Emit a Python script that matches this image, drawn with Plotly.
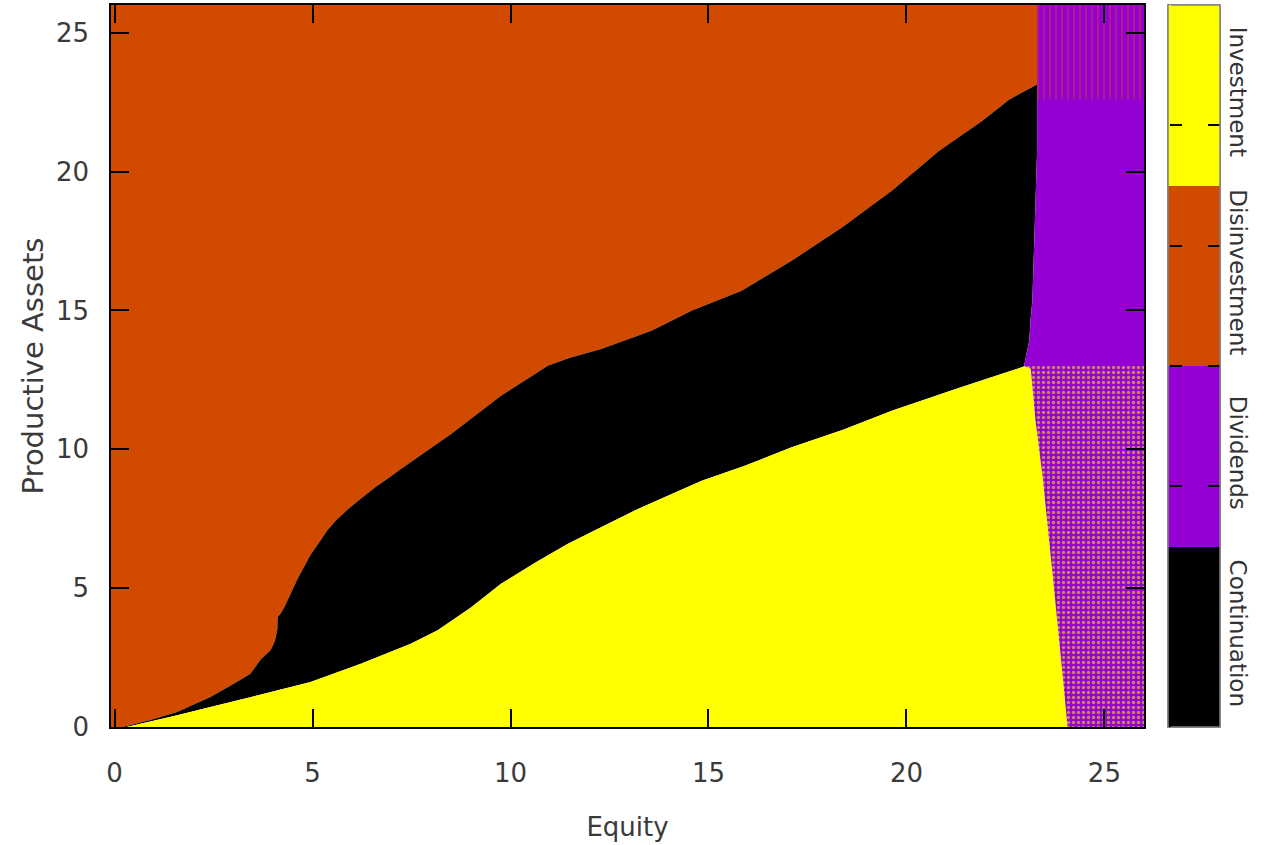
import plotly.graph_objects as go

# ---- data (Equity x, Productive Assets y) ----
upper_x = [0.2, 0.9, 1.58, 2.42, 3.0, 3.43, 3.7, 3.94, 4.05, 4.11, 4.12, 4.2, 4.3, 4.61, 4.95, 5.2,
           5.37, 5.6, 5.9, 6.2, 6.6, 7.0, 7.23, 8.5, 9.76, 10.5, 10.94, 11.5, 12.29, 13.56, 14.57,
           15.84, 17.1, 18.37, 19.63, 20.82, 21.91, 22.6, 23.3]
upper_y = [0.0, 0.25, 0.54, 1.08, 1.55, 1.92, 2.45, 2.76, 3.1, 3.5, 3.96, 4.1, 4.35, 5.3, 6.2, 6.72,
           7.08, 7.45, 7.85, 8.2, 8.65, 9.05, 9.29, 10.55, 11.93, 12.6, 13.01, 13.3, 13.61, 14.27, 14.99,
           15.71, 16.79, 17.99, 19.31, 20.74, 21.82, 22.6, 23.14]

lower_x = [0.3, 0.9, 1.58, 2.42, 3.5, 4.95, 6.22, 7.48, 8.16, 9.0, 9.76, 10.6, 11.45, 12.3, 13.14,
           14.0, 14.83, 15.9, 17.1, 18.4, 19.63, 21.3, 22.95]
lower_y = [0.0, 0.2, 0.42, 0.72, 1.1, 1.62, 2.28, 3.0, 3.48, 4.3, 5.16, 5.9, 6.6, 7.2, 7.8,
           8.35, 8.87, 9.4, 10.07, 10.7, 11.39, 12.2, 12.97]

# black / purple boundary (bottom to top)
div_x = [22.97, 23.1, 23.14, 23.18, 23.22, 23.3, 23.3]
div_y = [13.0, 13.9, 14.75, 15.35, 17.15, 20.74, 23.14]

# yellow / mixed boundary (top to bottom)
mix_x = [22.97, 23.14, 23.26, 23.44, 23.69, 23.94, 24.07]
mix_y = [13.0, 12.9, 11.03, 9.0, 5.52, 1.93, 0.0]

stripe_bottom = 22.6
x_lo, x_hi = -0.09, 26.0
y_lo, y_hi = 0.0, 26.0

categories = ["Continuation", "Dividends", "Disinvestment", "Investment"]
colors = ["#000000", "#9400D3", "#D24A00", "#FFFF00"]
cb_ticks = [4 * k / 6 for k in range(1, 6)]
BLACK, PURPLE, ORANGE, YELLOW = colors

fig = go.Figure()

# Disinvestment (orange) region: above the upper boundary
ox = [x_lo, x_lo] + upper_x + [upper_x[-1], x_lo]
oy = [y_hi, 0.0] + upper_y + [y_hi, y_hi]
fig.add_trace(go.Scatter(x=ox, y=oy, fill="toself", fillcolor=ORANGE, mode="none"))

# Continuation (black): between boundaries
bx = upper_x + div_x[::-1] + lower_x[::-1]
by = upper_y + div_y[::-1] + lower_y[::-1]
fig.add_trace(go.Scatter(x=bx, y=by, fill="toself", fillcolor=BLACK, mode="none"))

# Investment (yellow): below the lower boundary
yx = lower_x + mix_x + [lower_x[0]]
yy = lower_y + mix_y + [0.0]
fig.add_trace(go.Scatter(x=yx, y=yy, fill="toself", fillcolor=YELLOW, mode="none"))

# Dividends (purple)
px_ = div_x + [div_x[-1], x_hi + 0.1, x_hi + 0.1]
py_ = div_y + [y_hi, y_hi, div_y[0]]
fig.add_trace(go.Scatter(x=px_, y=py_, fill="toself", fillcolor=PURPLE, mode="none"))

# striped zone (purple with orange vertical lines)
sx = [div_x[-1], x_hi + 0.1, x_hi + 0.1, div_x[-1], div_x[-1]]
sy = [stripe_bottom, stripe_bottom, y_hi, y_hi, stripe_bottom]
fig.add_trace(go.Scatter(x=sx, y=sy, fill="toself", fillcolor=PURPLE, mode="none",
                         fillpattern=dict(shape="|", fgcolor=ORANGE, bgcolor=PURPLE,
                                          size=6, solidity=0.25)))

# mixed zone (purple / yellow)
mx = mix_x + [x_hi + 0.1, x_hi + 0.1, mix_x[0]]
my = mix_y + [0.0, mix_y[0], mix_y[0]]
fig.add_trace(go.Scatter(x=mx, y=my, fill="toself", fillcolor=PURPLE, mode="none",
                         fillpattern=dict(shape=".", fgcolor=YELLOW, bgcolor=PURPLE,
                                          size=5, solidity=0.38)))

# colour bar
cs = []
for i, c in enumerate(colors):
    cs.append([i / 4, c])
    cs.append([(i + 1) / 4, c])

CB_X = 1.0232
PX = 1.0 / 1033


def cb_trace(colorbar):
    return go.Scatter(
        x=[1, 1, 1, 1], y=[1, 1, 1, 1], mode="markers", hoverinfo="skip",
        marker=dict(color=[0.5, 1.5, 2.5, 3.5], cmin=0, cmax=4, colorscale=cs, opacity=0,
                    size=1, showscale=True, colorbar=colorbar))


common = dict(xanchor="left", xref="paper", y=0.5, yanchor="middle", len=1,
              lenmode="fraction", xpad=0, ypad=0)
# labelled bar
fig.add_trace(cb_trace(dict(x=CB_X, thickness=52, outlinecolor="#808080", outlinewidth=1.5,
                            tickvals=[0.5, 1.5, 2.5, 3.5], ticktext=categories,
                            tickangle=90, ticks="",
                            tickfont=dict(size=23, color="#333333", family="DejaVu Sans"),
                            **common)))
# inner tick marks, right side
fig.add_trace(cb_trace(dict(x=CB_X, thickness=52, outlinewidth=1.5, outlinecolor="#808080",
                            tickvals=cb_ticks, ticks="inside", ticklen=12, tickwidth=1.5,
                            tickcolor="black", showticklabels=False, **common)))
# inner tick marks, left side
fig.add_trace(cb_trace(dict(x=CB_X + 1 * PX, thickness=1, outlinewidth=0,
                            tickvals=cb_ticks, ticks="outside", ticklen=12, tickwidth=1.5,
                            tickcolor="black", showticklabels=False, **common)))

font = dict(family="DejaVu Sans", size=26, color="#3a3a3a")
fig.update_layout(
    width=1271, height=845, showlegend=False,
    margin=dict(l=111, r=127, t=3, b=118),
    paper_bgcolor="white", plot_bgcolor="white",
    font=font, hovermode=False,
    xaxis=dict(range=[x_lo, x_hi], tickvals=[0, 5, 10, 15, 20, 25], ticks="inside",
               ticklen=18, tickwidth=1.5, tickcolor="black", showline=True, linecolor="black",
               linewidth=1.5, mirror="ticks", showgrid=False, zeroline=False,
               ticklabelstandoff=22,
               title=dict(text="Equity", standoff=31, font=dict(size=26))),
    yaxis=dict(range=[y_lo, y_hi], tickvals=[0, 5, 10, 15, 20, 25], ticks="inside",
               ticklen=18, tickwidth=1.5, tickcolor="black", showline=True, linecolor="black",
               linewidth=1.5, mirror="ticks", showgrid=False, zeroline=False,
               ticklabelstandoff=15,
               title=dict(text="Productive Assets", standoff=4, font=dict(size=29))),
)

fig.write_html("out.html", config={"displayModeBar": False},
               post_script="document.body.style.margin='0';")
